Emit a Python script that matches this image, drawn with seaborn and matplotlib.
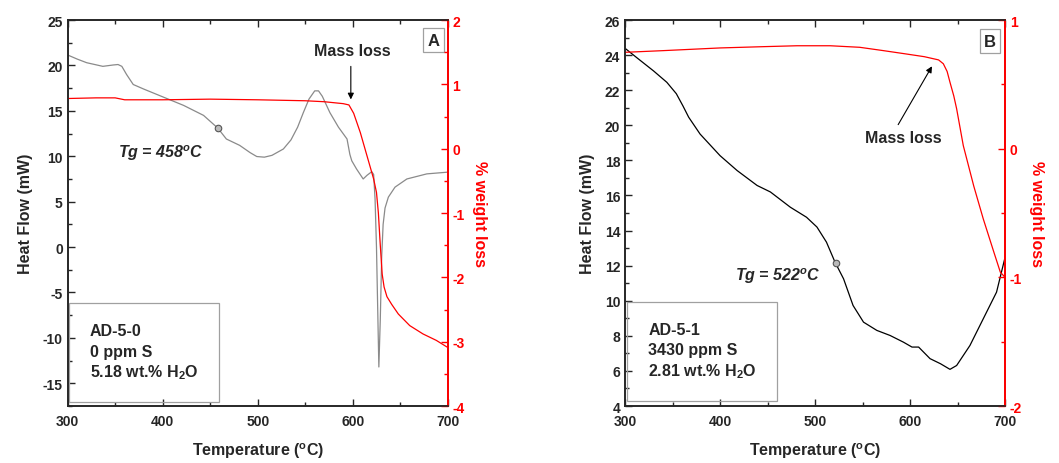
"""DSC / TGA curves for AD-5-0 and AD-5-1."""
import matplotlib
matplotlib.use("Agg")
import matplotlib.pyplot as plt
import pandas as pd
import seaborn as sns
from matplotlib.patches import Rectangle
from matplotlib.ticker import MultipleLocator

# Panel A (AD-5-0) heat flow
temp_a_hf = [300, 310, 320, 337, 348, 353, 357, 362, 369, 380, 401, 422, 443, 458, 467, 481,
             492, 499, 507, 515, 527, 535, 542, 548, 554, 560, 564, 568, 576, 585, 594, 597,
             599, 604, 611, 615, 620, 622, 623.5, 625, 627.5, 629, 630.5, 632, 634, 637.5,
             644.5, 657, 678, 700]
heat_a = [21.15, 20.7, 20.3, 19.9, 20.05, 20.1, 19.9, 19.0, 17.9, 17.4, 16.5, 15.6, 14.5, 13.1,
          11.9, 11.2, 10.4, 9.97, 9.9, 10.1, 10.8, 11.8, 13.2, 14.8, 16.3, 17.2, 17.2, 16.6,
          14.8, 13.2, 11.9, 10.2, 9.5, 8.6, 7.5, 7.9, 8.3, 8.0, 5.3, 0.0, -13.2, -8.0, -1.0,
          2.5, 4.3, 5.5, 6.6, 7.5, 8.06, 8.25]
# Panel A weight loss
temp_a_wl = [300, 330, 350, 360, 400, 450, 500, 550, 570, 590, 596, 601, 608, 615, 622, 625,
             627, 629, 631, 633, 636, 641, 648, 660, 674, 688, 700]
wloss_a = [0.78, 0.79, 0.79, 0.76, 0.76, 0.77, 0.76, 0.745, 0.73, 0.70, 0.68, 0.55, 0.25,
           -0.11, -0.47, -0.68, -1.0, -1.5, -1.95, -2.15, -2.3, -2.42, -2.57, -2.75, -2.88,
           -2.98, -3.09]

# Panel B (AD-5-1) heat flow
temp_b_hf = [300, 312, 330, 344, 354, 361, 367, 379, 400, 418, 439, 453, 474, 491, 502, 512,
             521, 530, 540, 551, 565, 579, 593, 602, 609, 621, 632, 642, 649, 663, 677, 691, 700]
heat_b = [24.39, 23.87, 23.1, 22.45, 21.8, 21.1, 20.46, 19.5, 18.27, 17.42, 16.57, 16.2, 15.33,
          14.76, 14.2, 13.34, 12.2, 11.25, 9.73, 8.78, 8.31, 8.02, 7.64, 7.36, 7.36, 6.7, 6.41,
          6.09, 6.31, 7.45, 8.97, 10.49, 12.48]
# Panel B weight loss
temp_b_wl = [300, 340, 400, 446, 481, 516, 547, 572, 596, 615, 624, 630, 635, 639, 642, 646,
             649, 656, 667, 677, 688, 695, 700]
wloss_b = [0.749, 0.762, 0.783, 0.793, 0.80, 0.80, 0.788, 0.762, 0.736, 0.715, 0.70, 0.69,
           0.66, 0.60, 0.516, 0.41, 0.31, 0.024, -0.29, -0.545, -0.80, -0.96, -1.0]

tg_values = [458, 522]
tg_heat = [13.1, 12.15]
samples = [["AD-5-0", "0 ppm S", "5.18 wt.% H$_{\\mathrm{2}}$O"],
           ["AD-5-1", "3430 ppm S", "2.81 wt.% H$_{\\mathrm{2}}$O"]]
panel_names = ["A", "B"]

sns.set_style("ticks")
plt.rcParams["font.family"] = ["Liberation Sans", "DejaVu Sans"]
plt.rcParams["font.weight"] = "bold"
plt.rcParams["axes.unicode_minus"] = False
plt.rcParams["axes.linewidth"] = 1.2
plt.rcParams["mathtext.fontset"] = "custom"
plt.rcParams["mathtext.rm"] = "Liberation Sans:bold"
plt.rcParams["mathtext.it"] = "Liberation Sans:italic:bold"
plt.rcParams["mathtext.bf"] = "Liberation Sans:bold"

fig = plt.figure(figsize=(10.59, 4.64), dpi=100)
ax_a = fig.add_axes([0.0639, 0.1228, 0.3589, 0.8319])
ax_b = fig.add_axes([0.5902, 0.1228, 0.3589, 0.8319])

panels = [
    dict(ax=ax_a, thf=temp_a_hf, hf=heat_a, twl=temp_a_wl, wl=wloss_a, color="#8a8a8a",
         ylim=(-17.5, 25), ymaj=5, ymin=2.5, rlim=(-4, 2),
         box=(301.8, -17.1, 157.5, 10.9), txt_y=[-9.2, -11.45, -13.7], txt_x=323.5,
         tg_xy=(353, 10.4), ml_text=(600, 21.6), ml_tail=(598, 20.2), ml_head=(598, 15.95),
         lab=(685, 22.8)),
    dict(ax=ax_b, thf=temp_b_hf, hf=heat_b, twl=temp_b_wl, wl=wloss_b, color="black",
         ylim=(4, 26), ymaj=2, ymin=1, rlim=(-2, 1),
         box=(302.5, 4.28, 157.5, 5.64), txt_y=[8.35, 7.2, 6.03], txt_x=324.6,
         tg_xy=(416, 11.48), ml_text=(593, 19.3), ml_tail=(586, 19.9), ml_head=(624.5, 23.5),
         lab=(684, 24.8)),
]

for i, p in enumerate(panels):
    ax = p["ax"]
    df_hf = pd.DataFrame({"T": p["thf"], "HF": p["hf"]})
    sns.lineplot(data=df_hf, x="T", y="HF", ax=ax, color=p["color"], lw=0.9)
    ax.set_xlim(300, 700)
    ax.set_ylim(*p["ylim"])
    ax.xaxis.set_major_locator(MultipleLocator(100))
    ax.xaxis.set_minor_locator(MultipleLocator(50))
    ax.yaxis.set_major_locator(MultipleLocator(p["ymaj"]))
    ax.yaxis.set_minor_locator(MultipleLocator(p["ymin"]))
    ax.tick_params(which="both", direction="in", top=True, labelsize=10, width=1.0)
    ax.tick_params(axis="x", pad=6)
    ax.tick_params(which="major", length=5)
    ax.tick_params(which="minor", length=3)
    ax.set_xlabel("Temperature ($^{\\mathrm{o}}$C)", fontsize=11.5, fontweight="bold",
                  labelpad=9)
    ax.set_ylabel("Heat Flow (mW)", fontsize=11.5, fontweight="bold", labelpad=7)

    ax2 = ax.twinx()
    df_wl = pd.DataFrame({"T": p["twl"], "WL": p["wl"]})
    sns.lineplot(data=df_wl, x="T", y="WL", ax=ax2, color="#ff0000", lw=0.9)
    ax2.set_ylim(*p["rlim"])
    ax2.yaxis.set_major_locator(MultipleLocator(1))
    ax2.yaxis.set_minor_locator(MultipleLocator(0.5))
    ax2.tick_params(which="both", direction="in", colors="#ff0000", labelsize=10, width=1.0)
    ax2.tick_params(which="major", length=5)
    ax2.tick_params(which="minor", length=3)
    ax2.spines["right"].set_color("#ff0000")
    ax2.spines["right"].set_linewidth(1.4)
    ax2.set_ylabel("% weight loss", color="#ff0000", fontsize=11.5, fontweight="bold",
                   rotation=270, labelpad=16)
    ax2.set_xlabel("")

    ax.scatter([tg_values[i]], [tg_heat[i]], s=22, facecolor="#bbbbbb", edgecolor="#555555",
               lw=0.8, zorder=5)
    ax.text(*p["tg_xy"], f"Tg = {tg_values[i]}$^{{\\mathit{{o}}}}$C", fontsize=11.5,
            fontweight="bold", style="italic", va="center", ha="left")

    bx, by, bw, bh = p["box"]
    ax.add_patch(Rectangle((bx, by), bw, bh, fill=False, edgecolor="#a0a0a0", lw=0.9, zorder=4))
    for line, yy in zip(samples[i], p["txt_y"]):
        ax.text(p["txt_x"], yy, line, fontsize=11.5, fontweight="bold", va="center", ha="left")

    ax.annotate("", xy=p["ml_head"], xytext=p["ml_tail"],
                arrowprops=dict(arrowstyle="-|>", color="black", lw=0.8, mutation_scale=9))
    ax.text(*p["ml_text"], "Mass loss", fontsize=11.5, fontweight="bold", ha="center",
            va="center")
    ax.text(*p["lab"], panel_names[i], fontsize=12, fontweight="bold", ha="center",
            va="center",
            bbox=dict(boxstyle="square,pad=0.25", fc="white", ec="#a0a0a0", lw=0.9))

fig.savefig("out.png", dpi=100)
